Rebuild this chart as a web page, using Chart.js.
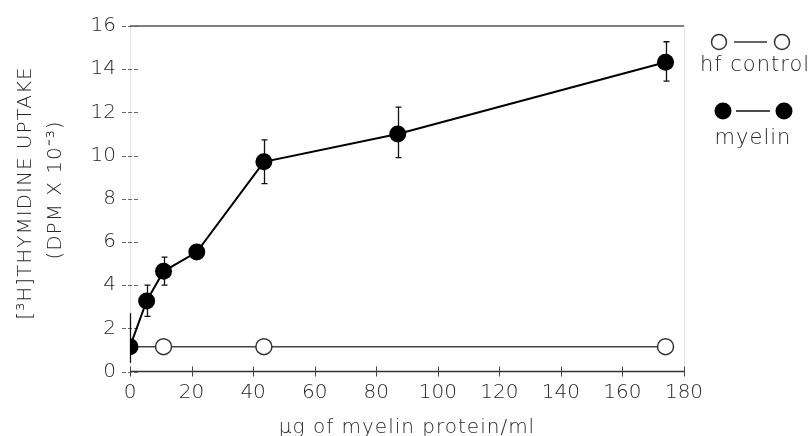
<!DOCTYPE html>
<html>
<head>
<meta charset="utf-8">
<script src="https://cdn.jsdelivr.net/npm/chart.js@4.4.1/dist/chart.umd.min.js"></script>
<style>
    html, body { margin: 0; padding: 0; background: #fff; }
    canvas { display: block; }
</style>
</head>
<body>
<canvas id="uptake" width="809" height="436"></canvas>
<script>
// myelin dose (ug/ml) vs. thymidine uptake
var doses = [0, 5.4, 10.9, 21.7, 43.5, 87, 174];
var myelinUptake = [1.15, 3.27, 4.64, 5.53, 9.71, 11.0, 14.32];
var errUpper = [2.7, 4.0, 5.3, 5.53, 10.73, 12.24, 15.27];
var errLower = [0.4, 2.55, 4.0, 5.53, 8.7, 9.9, 13.45];

// heat-treated control
var controlDoses = [0, 10.9, 43.5, 174];
var controlUptake = [1.15, 1.15, 1.15, 1.15];

var xTicks = [0, 20, 40, 60, 80, 100, 120, 140, 160, 180];
var yTicks = [0, 2, 4, 6, 8, 10, 12, 14, 16];

var FONT = "'DejaVu Sans', sans-serif";
var TEXT = '#262626';

function toPoints(xs, ys) {
    return xs.map(function (x, i) {
        return {x: x, y: ys[i]};
    });
}

var framePlugin = {
    id: 'frame',
    beforeDatasetsDraw: function (chart) {
        var ctx = chart.ctx;
        var xs = chart.scales.x;
        var ys = chart.scales.y;
        var a = chart.chartArea;

        ctx.save();
        // faint left axis and right border
        ctx.strokeStyle = '#e2e2e2';
        ctx.lineWidth = 1;
        ctx.beginPath();
        ctx.moveTo(a.left + 0.5, a.top);
        ctx.lineTo(a.left + 0.5, a.bottom);
        ctx.moveTo(a.right + 0.5, a.top);
        ctx.lineTo(a.right + 0.5, a.bottom);
        ctx.stroke();

        // top rule
        ctx.strokeStyle = '#555';
        ctx.lineWidth = 1.5;
        ctx.beginPath();
        ctx.moveTo(a.left, a.top);
        ctx.lineTo(a.right, a.top);
        ctx.stroke();

        // bottom axis
        ctx.strokeStyle = '#333';
        ctx.beginPath();
        ctx.moveTo(a.left, a.bottom);
        ctx.lineTo(a.right, a.bottom);
        ctx.stroke();

        // x tick crosses
        ctx.lineWidth = 1;
        ctx.strokeStyle = '#444';
        xTicks.forEach(function (v) {
            var px = Math.round(xs.getPixelForValue(v)) + 0.5;
            ctx.beginPath();
            ctx.moveTo(px, a.bottom - 5);
            ctx.lineTo(px, a.bottom + 5);
            ctx.stroke();
        });

        // y tick dashes
        ctx.strokeStyle = '#666';
        ctx.setLineDash([4, 2]);
        yTicks.forEach(function (v) {
            var py = Math.round(ys.getPixelForValue(v)) + 0.5;
            ctx.beginPath();
            ctx.moveTo(a.left - 8, py);
            ctx.lineTo(a.left + 8, py);
            ctx.stroke();
        });
        ctx.setLineDash([]);

        // error bars on myelin points
        ctx.strokeStyle = '#111';
        ctx.lineWidth = 1.3;
        doses.forEach(function (d, i) {
            var px = Math.round(xs.getPixelForValue(d)) + 0.5;
            var hi = ys.getPixelForValue(errUpper[i]);
            var lo = ys.getPixelForValue(errLower[i]);
            ctx.beginPath();
            ctx.moveTo(px, hi);
            ctx.lineTo(px, lo);
            if (d > 0) {
                ctx.moveTo(px - 3, hi);
                ctx.lineTo(px + 3, hi);
                ctx.moveTo(px - 3, lo);
                ctx.lineTo(px + 3, lo);
            }
            ctx.stroke();
        });
        ctx.restore();
    },
    afterDraw: function (chart) {
        var ctx = chart.ctx;
        var a = chart.chartArea;

        ctx.save();
        ctx.fillStyle = TEXT;
        ctx.textAlign = 'center';
        ctx.textBaseline = 'middle';
        ctx.letterSpacing = '1px';

        // x title
        ctx.font = '200 20px ' + FONT;
        ctx.fillText('\u03bcg of myelin protein/ml', (a.left + a.right) / 2, 428);

        // y title, two lines
        ctx.save();
        ctx.translate(26, 193);
        ctx.rotate(-Math.PI / 2);
        ctx.fillText('[\u00b3H]THYMIDINE UPTAKE', 0, 0);
        ctx.restore();
        ctx.save();
        ctx.translate(56, 190);
        ctx.rotate(-Math.PI / 2);
        ctx.fillText('(DPM X 10\u207b\u00b3)', 0, 0);
        ctx.restore();

        // legend
        ctx.lineWidth = 1.5;
        ctx.strokeStyle = '#333';
        ctx.beginPath();
        ctx.moveTo(734, 42);
        ctx.lineTo(767, 42);
        ctx.stroke();
        [719, 782].forEach(function (cx) {
            ctx.beginPath();
            ctx.arc(cx, 42, 7.5, 0, Math.PI * 2);
            ctx.fillStyle = '#fff';
            ctx.fill();
            ctx.stroke();
        });
        ctx.fillStyle = TEXT;
        ctx.font = '200 21px ' + FONT;
        ctx.fillText('hf control', 755, 66);

        ctx.strokeStyle = '#111';
        ctx.beginPath();
        ctx.moveTo(736, 111);
        ctx.lineTo(770, 111);
        ctx.stroke();
        ctx.fillStyle = '#000';
        [723, 784].forEach(function (cx) {
            ctx.beginPath();
            ctx.arc(cx, 111, 8.5, 0, Math.PI * 2);
            ctx.fill();
        });
        ctx.fillStyle = TEXT;
        ctx.fillText('myelin', 753, 139);
        ctx.restore();
    }
};

new Chart(document.getElementById('uptake'), {
    type: 'scatter',
    data: {
        datasets: [{
            label: 'myelin',
            data: toPoints(doses, myelinUptake),
            showLine: true,
            borderColor: '#000',
            borderWidth: 2,
            backgroundColor: '#000',
            pointRadius: 8.5,
            pointBorderWidth: 0
        }, {
            label: 'hf control',
            data: toPoints(controlDoses, controlUptake),
            showLine: true,
            borderColor: '#444',
            borderWidth: 1.5,
            backgroundColor: '#fff',
            pointBorderColor: '#333',
            pointBorderWidth: 1.5,
            pointRadius: [0, 8, 8, 8]
        }]
    },
    options: {
        responsive: false,
        animation: false,
        devicePixelRatio: 1,
        layout: {
            padding: {left: 0, top: 19, right: 125, bottom: 0}
        },
        plugins: {
            legend: {display: false},
            tooltip: {enabled: false}
        },
        scales: {
            x: {
                type: 'linear',
                min: 0,
                max: 180,
                afterFit: function (scale) { scale.height = 64.5; },
                afterBuildTicks: function (scale) {
                    scale.ticks = xTicks.map(function (v) { return {value: v}; });
                },
                grid: {display: false, drawTicks: false},
                border: {display: false},
                ticks: {
                    padding: 9,
                    color: TEXT,
                    font: {family: FONT, size: 20, weight: 200}
                }
            },
            y: {
                type: 'linear',
                min: 0,
                max: 16,
                afterFit: function (scale) { scale.width = 130; },
                afterBuildTicks: function (scale) {
                    scale.ticks = yTicks.map(function (v) { return {value: v}; });
                },
                grid: {display: false, drawTicks: false},
                border: {display: false},
                ticks: {
                    padding: 14,
                    color: TEXT,
                    font: {family: FONT, size: 20, weight: 200}
                }
            }
        }
    },
    plugins: [framePlugin]
});
</script>
</body>
</html>
